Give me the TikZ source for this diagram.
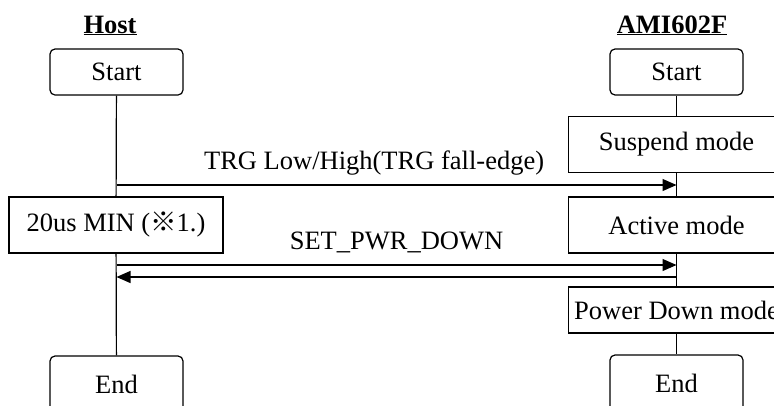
\documentclass[tikz,border=0pt]{standalone}
\usepackage{fontspec}
\setmainfont{Liberation Serif}
\newfontfamily\cjk{Noto Sans CJK JP}
\usepackage{tikz}
\usetikzlibrary{arrows.meta}
\usetikzlibrary{positioning}

\tikzset{
	term/.style={draw, fill=white, rounded corners=5pt, minimum width=133pt, minimum height=46pt, inner sep=0pt},
	mode/.style={draw, fill=white, minimum width=216pt, minimum height=56pt, inner sep=0pt},
	lane/.style={anchor=base, font=\fontsize{26.5}{30}\selectfont\bfseries},
	msg/.style={-{Triangle[length=14pt,width=12pt]}},
	lbl/.style={inner sep=0pt, text depth=0pt}
}

\begin{document}
\begin{tikzpicture}[x=1pt, y=-1pt, line width=1.2pt, font=\fontsize{26.5}{30}\selectfont]
	\useasboundingbox (0,0) rectangle (774,405);
	\node[lane] (host) at (110,33) {\underline{Host}};
	\node[lane] (ami) at (672,33) {\underline{AMI602F}};
	\node[term] (hstart) at (116.5,72) {Start};
	\node[term] (astart) at (676.5,72) {Start};
	\node[mode] (susp) at (676.5,144.5) {Suspend mode};
	\node[mode, minimum width=214pt] (wait) at (116,225) {20us MIN ({\cjk ※}1.)};
	\node[mode] (act) at (676.5,225) {Active mode};
	\node[mode, minimum height=46pt] (pd) at (676.5,310) {Power Down mode};
	\node[term, minimum height=56pt] (hend) at (116.5,384) {End};
	\node[term, minimum height=56pt] (aend) at (676.5,383) {End};
	\coordinate (trgH) at (hstart.south |- 0,185);
	\coordinate (trgA) at (astart.south |- 0,185);
	\coordinate (pwrH) at (hstart.south |- 0,265);
	\coordinate (pwrA) at (astart.south |- 0,265);
	\coordinate (ackA) at (astart.south |- 0,277);
	\coordinate (ackH) at (hstart.south |- 0,277);
	\path[draw]
	(hstart) edge (wait)
	(wait) edge (hend)
	(astart) edge (susp)
	(susp) edge (act)
	(act) edge (pd)
	(pd) edge (aend)
	;
	\path[msg]
	(trgH) edge node [lbl, above=15pt, pos=.46] {TRG Low/High(TRG fall-edge)} (trgA)
	(pwrH) edge node [lbl, above=15pt] {SET\_PWR\_DOWN} (pwrA)
	(ackA) edge (ackH)
	;
\end{tikzpicture}
\end{document}
